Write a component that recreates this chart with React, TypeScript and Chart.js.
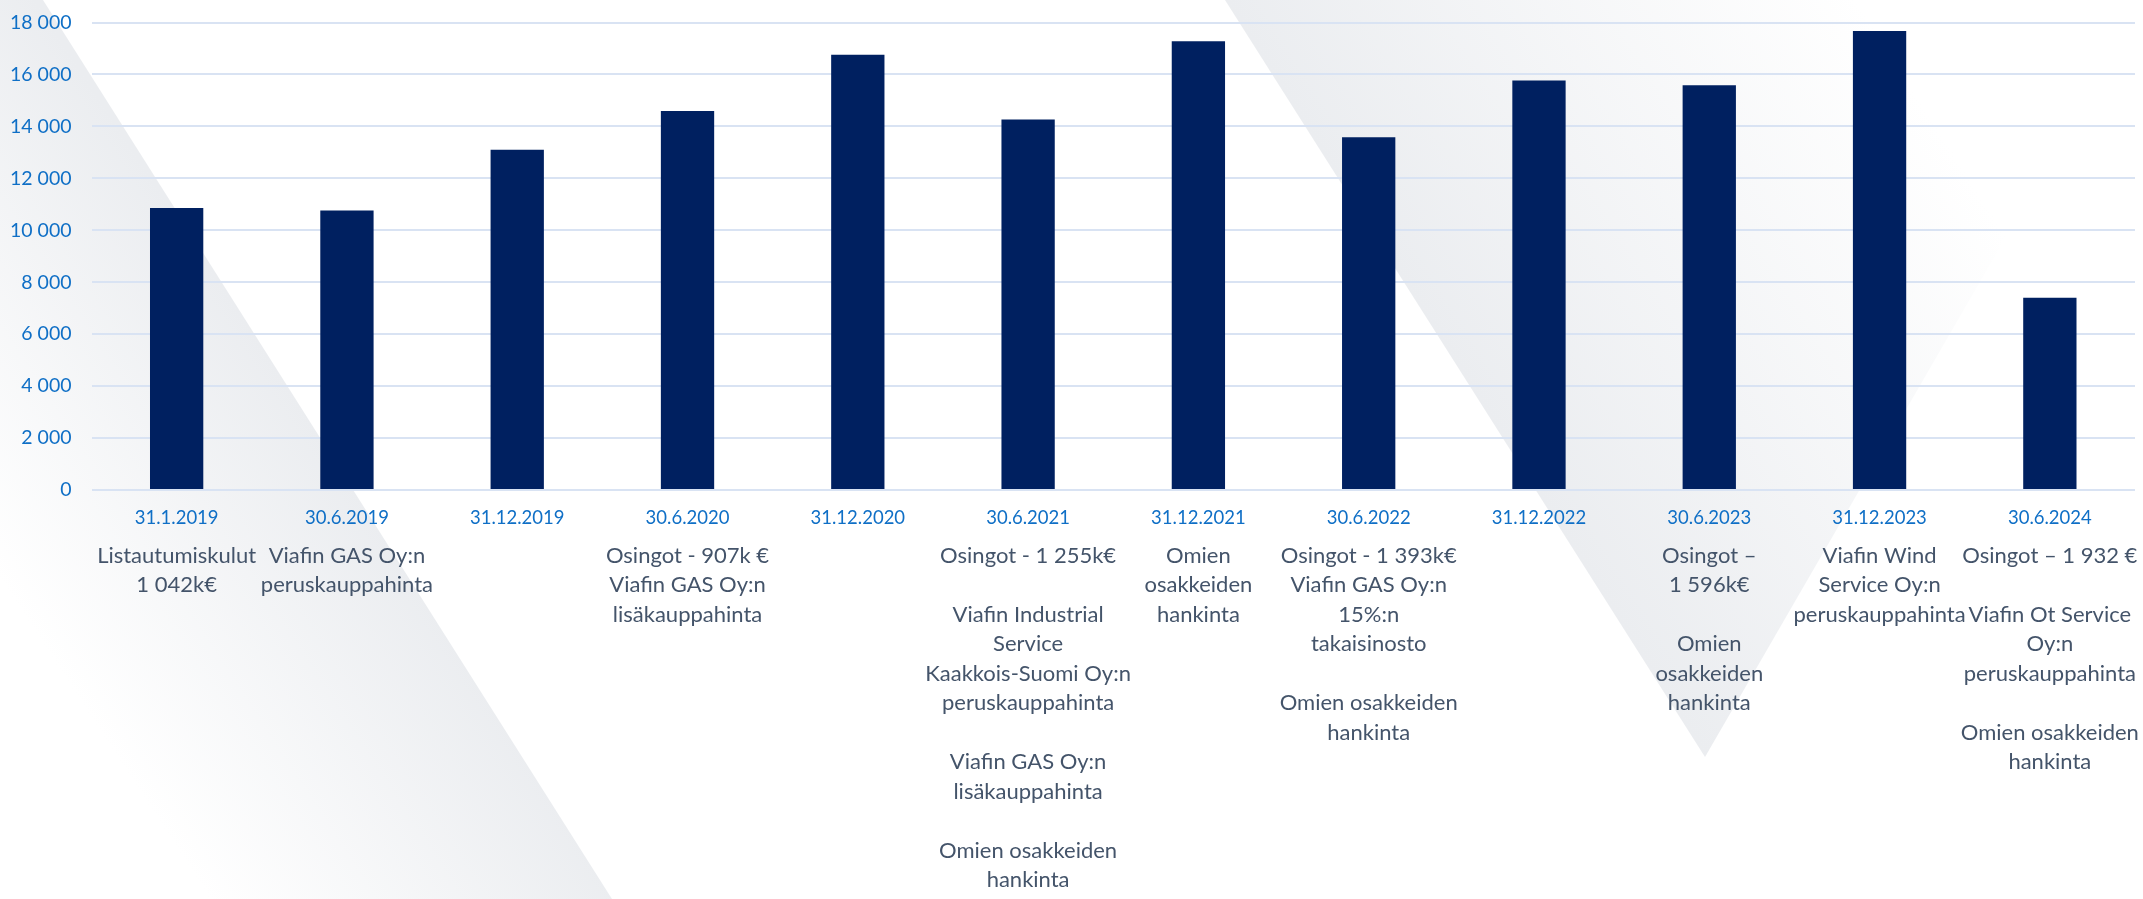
import { useEffect, useRef } from 'react';
import { Chart, registerables } from 'chart.js';

Chart.register(...registerables);

const categories = [
  '31.1.2019', '30.6.2019', '31.12.2019', '30.6.2020', '31.12.2020', '30.6.2021',
  '31.12.2021', '30.6.2022', '31.12.2022', '30.6.2023', '31.12.2023', '30.6.2024',
];

const values = [10860, 10760, 13100, 14590, 16760, 14270, 17280, 13580, 15770, 15580, 17670, 7400];

const notes: string[][] = [
  ['Listautumiskulut', '1 042k€'],
  ['Viafin GAS Oy:n', 'peruskauppahinta'],
  [''],
  ['Osingot - 907k €', 'Viafin GAS Oy:n', 'lisäkauppahinta'],
  [''],
  ['Osingot - 1 255k€', '', 'Viafin Industrial', 'Service', 'Kaakkois-Suomi Oy:n', 'peruskauppahinta', '', 'Viafin GAS Oy:n', 'lisäkauppahinta', '', 'Omien osakkeiden', 'hankinta'],
  ['Omien', 'osakkeiden', 'hankinta'],
  ['Osingot - 1 393k€', 'Viafin GAS Oy:n', '15%:n', 'takaisinosto', '', 'Omien osakkeiden', 'hankinta'],
  [''],
  ['Osingot –', '1 596k€', '', 'Omien', 'osakkeiden', 'hankinta'],
  ['Viafin Wind', 'Service Oy:n', 'peruskauppahinta'],
  ['Osingot – 1 932 €', '', 'Viafin Ot Service', 'Oy:n', 'peruskauppahinta', '', 'Omien osakkeiden', 'hankinta'],
];

const yMin = 0;
const yMax = 18000;
const yStep = 2000;

const FONT = 'Lato, "Open Sans", sans-serif';

const fmt = (v: number) => String(v).replace(/\B(?=(\d{3})+(?!\d))/g, ' ');

const bgPlugin = {
  id: 'bgShapes',
  beforeDraw(chart: any) {
    const { ctx, width, height } = chart;
    const sx = width / 2143;
    const sy = height / 899;
    ctx.save();
    ctx.fillStyle = '#ffffff';
    ctx.fillRect(0, 0, width, height);

    // left wedge
    let g = ctx.createLinearGradient(330 * sx, 450 * sy, 40 * sx, 640 * sy);
    g.addColorStop(0, '#EBEDF0');
    g.addColorStop(1, 'rgba(255,255,255,1)');
    ctx.fillStyle = g;
    ctx.beginPath();
    ctx.moveTo(0, 0);
    ctx.lineTo(43 * sx, 0);
    ctx.lineTo(612 * sx, 899 * sy);
    ctx.lineTo(0, 899 * sy);
    ctx.closePath();
    ctx.fill();

    // middle inverted triangle
    g = ctx.createLinearGradient(1400 * sx, 275 * sy, 1850 * sx, -10 * sy);
    g.addColorStop(0, '#EBEDF0');
    g.addColorStop(1, 'rgba(255,255,255,1)');
    ctx.fillStyle = g;
    ctx.beginPath();
    ctx.moveTo(1225 * sx, 0);
    ctx.lineTo(2143 * sx, 0);
    ctx.lineTo(1705 * sx, 757 * sy);
    ctx.closePath();
    ctx.fill();
    ctx.restore();
  },
};

export default function App() {
  const ref = useRef<HTMLCanvasElement | null>(null);

  useEffect(() => {
    document.body.style.margin = '0';
    if (!ref.current) return;
    const chart = new Chart(ref.current, {
      type: 'bar',
      data: {
        labels: categories,
        datasets: [
          {
            data: values,
            backgroundColor: '#002060',
            borderWidth: 0,
            categoryPercentage: 1,
            barPercentage: 0.313,
          },
        ],
      },
      plugins: [bgPlugin],
      options: {
        animation: false,
        responsive: true,
        maintainAspectRatio: false,
        layout: { padding: { top: 22.5, right: 8, left: 0, bottom: 0 } },
        plugins: {
          legend: { display: false },
          tooltip: { enabled: false },
        },
        scales: {
          y: {
            min: yMin,
            max: yMax,
            ticks: {
              stepSize: yStep,
              padding: 20,
              color: '#0F6FC6',
              font: { family: FONT, size: 19.5 },
              callback: (v: any) => fmt(Number(v)),
            },
            grid: { color: '#D9E3F3', lineWidth: 2, drawTicks: false },
            border: { display: false },
            afterFit: (s: any) => {
              s.width = 91.5;
              s.paddingTop = 0;
              s.paddingBottom = 0;
            },
          },
          x: {
            position: 'bottom',
            weight: 1,
            offset: true,
            grid: { display: false, drawTicks: false },
            border: { display: false },
            ticks: {
              autoSkip: false,
              maxRotation: 0,
              minRotation: 0,
              padding: 17,
              color: '#0F6FC6',
              font: { family: FONT, size: 18.5, lineHeight: 1.2 },
            },
            afterFit: (s: any) => {
              s.height = 40;
              s.paddingLeft = 0;
              s.paddingRight = 0;
            },
          },
          x2: {
            type: 'category',
            labels: notes as any,
            position: 'bottom',
            weight: 2,
            offset: true,
            grid: { display: false, drawTicks: false },
            border: { display: false },
            ticks: {
              autoSkip: false,
              maxRotation: 0,
              minRotation: 0,
              padding: 11,
              color: '#44546A',
              font: { family: FONT, size: 22, lineHeight: '29.5px' as any },
            },
            afterFit: (s: any) => {
              s.height = 369;
              s.paddingLeft = 0;
              s.paddingRight = 0;
            },
          },
        },
      } as any,
    });
    return () => chart.destroy();
  }, []);

  return (
    <div style={{ position: 'relative', width: 2143, height: 899 }}>
      <canvas ref={ref} />
    </div>
  );
}
